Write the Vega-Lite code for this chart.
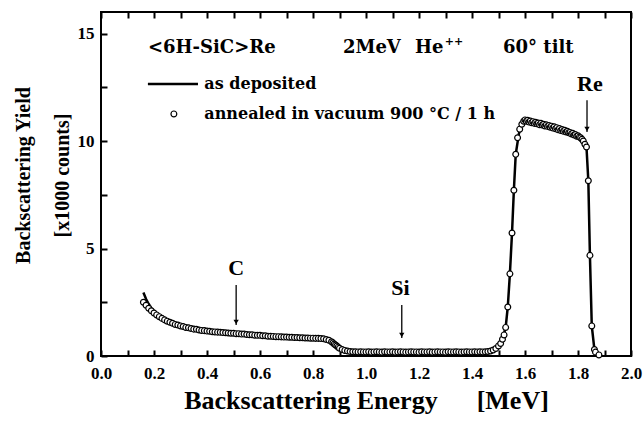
{
  "$schema": "https://vega.github.io/schema/vega-lite/v6.json",
  "width": 530,
  "height": 344,
  "autosize": {"type": "none"},
  "padding": {"left": 101, "top": 12, "right": 13, "bottom": 66},
  "background": "white",
  "config": {
    "view": {"stroke": "black", "strokeWidth": 2},
    "axis": {
      "labelFont": "Liberation Serif", "labelFontWeight": "bold", "labelColor": "black",
      "titleFont": "Liberation Serif", "titleFontWeight": "bold", "titleColor": "black",
      "tickColor": "black", "tickWidth": 2, "domain": false, "grid": false
    },
    "text": {"font": "Liberation Serif", "fontWeight": "bold", "color": "black"}
  },
  "datasets": {
    "annealed": [
      {"e":0.16,"c":2.50},{"e":0.17,"c":2.36},{"e":0.18,"c":2.22},{"e":0.19,"c":2.10},{"e":0.20,"c":2.00},
      {"e":0.21,"c":1.91},{"e":0.22,"c":1.83},{"e":0.23,"c":1.75},{"e":0.24,"c":1.68},{"e":0.25,"c":1.62},
      {"e":0.26,"c":1.57},{"e":0.27,"c":1.52},{"e":0.28,"c":1.47},{"e":0.29,"c":1.44},{"e":0.30,"c":1.40},
      {"e":0.31,"c":1.37},{"e":0.32,"c":1.33},{"e":0.33,"c":1.31},{"e":0.34,"c":1.28},{"e":0.35,"c":1.25},
      {"e":0.36,"c":1.24},{"e":0.37,"c":1.21},{"e":0.38,"c":1.19},{"e":0.39,"c":1.18},{"e":0.40,"c":1.16},
      {"e":0.41,"c":1.15},{"e":0.42,"c":1.13},{"e":0.43,"c":1.12},{"e":0.44,"c":1.11},{"e":0.45,"c":1.10},
      {"e":0.46,"c":1.09},{"e":0.47,"c":1.08},{"e":0.48,"c":1.07},{"e":0.49,"c":1.06},{"e":0.50,"c":1.06},
      {"e":0.51,"c":1.04},{"e":0.52,"c":1.04},{"e":0.53,"c":1.02},{"e":0.54,"c":1.02},{"e":0.55,"c":1.00},
      {"e":0.56,"c":0.99},{"e":0.57,"c":0.99},{"e":0.58,"c":0.97},{"e":0.59,"c":0.96},{"e":0.60,"c":0.96},
      {"e":0.61,"c":0.94},{"e":0.62,"c":0.94},{"e":0.63,"c":0.92},{"e":0.64,"c":0.92},{"e":0.65,"c":0.91},
      {"e":0.66,"c":0.90},{"e":0.67,"c":0.90},{"e":0.68,"c":0.89},{"e":0.69,"c":0.88},{"e":0.70,"c":0.88},
      {"e":0.71,"c":0.87},{"e":0.72,"c":0.87},{"e":0.73,"c":0.86},{"e":0.74,"c":0.86},{"e":0.75,"c":0.85},
      {"e":0.76,"c":0.85},{"e":0.77,"c":0.84},{"e":0.78,"c":0.84},{"e":0.79,"c":0.83},{"e":0.80,"c":0.83},
      {"e":0.81,"c":0.82},{"e":0.82,"c":0.82},{"e":0.83,"c":0.81},{"e":0.84,"c":0.80},{"e":0.85,"c":0.77},
      {"e":0.86,"c":0.73},{"e":0.87,"c":0.66},{"e":0.875,"c":0.61},{"e":0.88,"c":0.56},{"e":0.885,"c":0.51},
      {"e":0.89,"c":0.46},{"e":0.895,"c":0.41},{"e":0.90,"c":0.36},{"e":0.91,"c":0.30},{"e":0.92,"c":0.26},
      {"e":0.93,"c":0.23},{"e":0.94,"c":0.21},{"e":0.95,"c":0.20},{"e":0.96,"c":0.20},{"e":0.97,"c":0.19},
      {"e":0.98,"c":0.20},{"e":0.99,"c":0.19},{"e":1.00,"c":0.19},{"e":1.01,"c":0.20},{"e":1.02,"c":0.18},
      {"e":1.03,"c":0.19},{"e":1.04,"c":0.20},{"e":1.05,"c":0.19},{"e":1.06,"c":0.18},{"e":1.07,"c":0.20},
      {"e":1.08,"c":0.19},{"e":1.09,"c":0.19},{"e":1.10,"c":0.20},{"e":1.11,"c":0.18},{"e":1.12,"c":0.19},
      {"e":1.13,"c":0.20},{"e":1.14,"c":0.19},{"e":1.15,"c":0.18},{"e":1.16,"c":0.19},{"e":1.17,"c":0.20},
      {"e":1.18,"c":0.19},{"e":1.19,"c":0.19},{"e":1.20,"c":0.18},{"e":1.21,"c":0.20},{"e":1.22,"c":0.19},
      {"e":1.23,"c":0.19},{"e":1.24,"c":0.20},{"e":1.25,"c":0.18},{"e":1.26,"c":0.19},{"e":1.27,"c":0.20},
      {"e":1.28,"c":0.19},{"e":1.29,"c":0.19},{"e":1.30,"c":0.18},{"e":1.31,"c":0.20},{"e":1.32,"c":0.19},
      {"e":1.33,"c":0.19},{"e":1.34,"c":0.20},{"e":1.35,"c":0.19},{"e":1.36,"c":0.18},{"e":1.37,"c":0.19},
      {"e":1.38,"c":0.20},{"e":1.39,"c":0.19},{"e":1.40,"c":0.19},{"e":1.41,"c":0.20},{"e":1.42,"c":0.19},
      {"e":1.43,"c":0.20},{"e":1.44,"c":0.19},{"e":1.45,"c":0.20},{"e":1.46,"c":0.21},{"e":1.47,"c":0.23},
      {"e":1.48,"c":0.28},{"e":1.49,"c":0.35},{"e":1.50,"c":0.47},{"e":1.508,"c":0.58},{"e":1.515,"c":0.78},
      {"e":1.521,"c":0.98},{"e":1.527,"c":1.33},{"e":1.535,"c":2.28},{"e":1.543,"c":3.82},{"e":1.551,"c":5.72},
      {"e":1.558,"c":7.71},{"e":1.565,"c":9.38},{"e":1.572,"c":10.15},{"e":1.58,"c":10.55},{"e":1.588,"c":10.78},
      {"e":1.595,"c":10.92},{"e":1.60,"c":10.98},{"e":1.605,"c":10.92},{"e":1.61,"c":10.96},{"e":1.615,"c":10.88},
      {"e":1.62,"c":10.93},{"e":1.625,"c":10.85},{"e":1.63,"c":10.90},{"e":1.635,"c":10.82},{"e":1.64,"c":10.87},
      {"e":1.645,"c":10.80},{"e":1.65,"c":10.84},{"e":1.655,"c":10.76},{"e":1.66,"c":10.82},{"e":1.665,"c":10.74},
      {"e":1.67,"c":10.78},{"e":1.675,"c":10.70},{"e":1.68,"c":10.75},{"e":1.685,"c":10.68},{"e":1.69,"c":10.72},
      {"e":1.695,"c":10.64},{"e":1.70,"c":10.69},{"e":1.705,"c":10.60},{"e":1.71,"c":10.66},{"e":1.715,"c":10.57},
      {"e":1.72,"c":10.62},{"e":1.725,"c":10.52},{"e":1.73,"c":10.58},{"e":1.735,"c":10.49},{"e":1.74,"c":10.53},
      {"e":1.745,"c":10.45},{"e":1.75,"c":10.50},{"e":1.755,"c":10.42},{"e":1.76,"c":10.45},{"e":1.765,"c":10.38},
      {"e":1.77,"c":10.40},{"e":1.775,"c":10.33},{"e":1.78,"c":10.36},{"e":1.785,"c":10.28},{"e":1.79,"c":10.30},
      {"e":1.795,"c":10.22},{"e":1.80,"c":10.24},{"e":1.805,"c":10.18},{"e":1.81,"c":10.15},{"e":1.815,"c":10.08},
      {"e":1.82,"c":10.00},{"e":1.826,"c":9.85},{"e":1.832,"c":9.72},{"e":1.839,"c":8.15},{"e":1.845,"c":4.68},
      {"e":1.852,"c":1.40},{"e":1.862,"c":0.30},{"e":1.866,"c":0.18},{"e":1.879,"c":0.05}
    ],
    "deposited": [
      {"e":0.16,"c":2.95},{"e":0.17,"c":2.65},{"e":0.18,"c":2.42},{"e":0.19,"c":2.22},{"e":0.20,"c":2.06},
      {"e":0.22,"c":1.86},{"e":0.25,"c":1.64},{"e":0.28,"c":1.49},{"e":0.30,"c":1.41},{"e":0.35,"c":1.26},
      {"e":0.40,"c":1.17},{"e":0.45,"c":1.10},{"e":0.50,"c":1.05},{"e":0.55,"c":1.01},{"e":0.60,"c":0.96},
      {"e":0.65,"c":0.92},{"e":0.70,"c":0.88},{"e":0.75,"c":0.86},{"e":0.80,"c":0.83},{"e":0.84,"c":0.80},
      {"e":0.86,"c":0.73},{"e":0.88,"c":0.56},{"e":0.90,"c":0.36},{"e":0.92,"c":0.26},{"e":0.95,"c":0.20},
      {"e":1.00,"c":0.19},{"e":1.10,"c":0.19},{"e":1.20,"c":0.19},{"e":1.30,"c":0.19},{"e":1.40,"c":0.19},
      {"e":1.45,"c":0.20},{"e":1.48,"c":0.28},{"e":1.50,"c":0.47},{"e":1.515,"c":0.78},{"e":1.527,"c":1.33},
      {"e":1.535,"c":2.28},{"e":1.543,"c":3.82},{"e":1.551,"c":5.72},{"e":1.558,"c":7.71},{"e":1.565,"c":9.38},
      {"e":1.577,"c":10.35},{"e":1.588,"c":10.75},{"e":1.60,"c":10.95},{"e":1.65,"c":10.82},{"e":1.70,"c":10.66},
      {"e":1.75,"c":10.47},{"e":1.80,"c":10.22},{"e":1.82,"c":10.02},{"e":1.832,"c":9.72},{"e":1.839,"c":8.15},
      {"e":1.845,"c":4.68},{"e":1.852,"c":1.40},{"e":1.862,"c":0.30},{"e":1.872,"c":0.05}
    ],
    "arrows": [
      {"e":0.51,"top":3.30,"tip":1.44},
      {"e":1.135,"top":2.37,"tip":0.84},
      {"e":1.834,"top":11.90,"tip":10.42}
    ],
    "elements": [
      {"e":0.51,"c":4.09,"t":"C"},
      {"e":1.13,"c":3.16,"t":"Si"},
      {"e":1.845,"c":12.65,"t":"Re"}
    ],
    "header": [
      {"e":0.177,"c":14.33,"t":"<6H-SiC>Re"},
      {"e":0.913,"c":14.33,"t":"2MeV"},
      {"e":1.185,"c":14.33,"t":"He"},
      {"e":1.517,"c":14.33,"t":"60° tilt"}
    ],
    "sup": [
      {"e":1.297,"c":14.6,"t":"++"}
    ],
    "legendline": [
      {"e":0.177,"e2":0.366,"c":12.65}
    ],
    "legendsym": [
      {"e":0.275,"c":11.26}
    ],
    "legendtext": [
      {"e":0.39,"c":12.65,"t":"as deposited"},
      {"e":0.39,"c":11.26,"t":"annealed in vacuum 900 °C / 1 h"}
    ]
  },
  "layer": [
    {
      "data": {"name": "deposited"},
      "mark": {"type": "line", "color": "black", "strokeWidth": 2.5},
      "encoding": {
        "x": {"field": "e", "type": "quantitative",
          "scale": {"domain": [0, 2], "nice": false, "zero": false},
          "axis": {
            "orient": "bottom",
            "values": [0,0.1,0.2,0.3,0.4,0.5,0.6,0.7,0.8,0.9,1.0,1.1,1.2,1.3,1.4,1.5,1.6,1.7,1.8,1.9,2.0],
            "labelExpr": "round(datum.value*10) % 2 === 0 ? format(datum.value, '.1f') : ''",
            "tickSize": -6,
            "labelPadding": 15,
            "labelFontSize": 17,
            "labelFlush": false,
            "labelOverlap": false,
            "title": "Backscattering Energy\u00a0\u00a0\u00a0\u00a0\u00a0\u00a0[MeV]",
            "titleFontSize": 26,
            "titleBaseline": "alphabetic",
            "titleY": 52
          }
        },
        "y": {"field": "c", "type": "quantitative",
          "scale": {"domain": [0, 16], "nice": false, "zero": false},
          "axis": {
            "orient": "left",
            "values": [0,2.5,5,7.5,10,12.5,15],
            "labelExpr": "datum.value % 5 === 0 ? datum.label : ''",
            "tickSize": -6,
            "labelPadding": 13,
            "labelFontSize": 17,
            "labelFlush": false,
            "labelOverlap": false,
            "title": ["Backscattering Yield", "[x1000 counts]"],
            "titleFontSize": 20,
            "titleLineHeight": 39,
            "titleBaseline": "bottom",
            "titleX": -68,
            "titleY": 163
          }
        }
      }
    },
    {
      "data": {"name": "annealed"},
      "mark": {"type": "point", "shape": "circle", "filled": false, "fill": "white", "fillOpacity": 1, "stroke": "black", "strokeWidth": 1.2, "size": 34, "opacity": 1},
      "encoding": {
        "x": {"field": "e", "type": "quantitative", "scale": {"domain": [0, 2], "nice": false, "zero": false}, "axis": null},
        "y": {"field": "c", "type": "quantitative", "scale": {"domain": [0, 16], "nice": false, "zero": false}, "axis": null}
      }
    },
    {
      "data": {"name": "arrows"},
      "mark": {"type": "rule", "color": "black", "strokeWidth": 1.3},
      "encoding": {
        "x": {"field": "e", "type": "quantitative", "scale": {"domain": [0, 2], "nice": false, "zero": false},
          "axis": {
            "orient": "top",
            "values": [0,0.1,0.2,0.3,0.4,0.5,0.6,0.7,0.8,0.9,1.0,1.1,1.2,1.3,1.4,1.5,1.6,1.7,1.8,1.9,2.0],
            "labels": false, "title": null, "tickSize": -6
          }
        },
        "y": {"field": "top", "type": "quantitative", "scale": {"domain": [0, 16], "nice": false, "zero": false}, "axis": null},
        "y2": {"field": "tip"}
      }
    },
    {
      "data": {"name": "arrows"},
      "mark": {"type": "point", "shape": "triangle-down", "filled": true, "color": "black", "size": 28, "yOffset": -3, "opacity": 1},
      "encoding": {
        "x": {"field": "e", "type": "quantitative", "scale": {"domain": [0, 2], "nice": false, "zero": false}, "axis": null},
        "y": {"field": "tip", "type": "quantitative", "scale": {"domain": [0, 16], "nice": false, "zero": false}, "axis": null}
      }
    },
    {
      "data": {"name": "elements"},
      "mark": {"type": "text", "fontSize": 22, "align": "center", "baseline": "middle"},
      "encoding": {
        "x": {"field": "e", "type": "quantitative", "scale": {"domain": [0, 2], "nice": false, "zero": false}, "axis": null},
        "y": {"field": "c", "type": "quantitative", "scale": {"domain": [0, 16], "nice": false, "zero": false}, "axis": null},
        "text": {"field": "t"}
      }
    },
    {
      "data": {"name": "header"},
      "mark": {"type": "text", "font": "DejaVu Serif", "fontSize": 18, "align": "left", "baseline": "middle"},
      "encoding": {
        "x": {"field": "e", "type": "quantitative", "scale": {"domain": [0, 2], "nice": false, "zero": false}, "axis": null},
        "y": {"field": "c", "type": "quantitative", "scale": {"domain": [0, 16], "nice": false, "zero": false}, "axis": null},
        "text": {"field": "t"}
      }
    },
    {
      "data": {"name": "sup"},
      "mark": {"type": "text", "font": "DejaVu Serif", "fontSize": 11, "align": "left", "baseline": "middle"},
      "encoding": {
        "x": {"field": "e", "type": "quantitative", "scale": {"domain": [0, 2], "nice": false, "zero": false}, "axis": null},
        "y": {"field": "c", "type": "quantitative", "scale": {"domain": [0, 16], "nice": false, "zero": false}, "axis": null},
        "text": {"field": "t"}
      }
    },
    {
      "data": {"name": "legendline"},
      "mark": {"type": "rule", "color": "black", "strokeWidth": 2.5},
      "encoding": {
        "x": {"field": "e", "type": "quantitative", "scale": {"domain": [0, 2], "nice": false, "zero": false}, "axis": null},
        "x2": {"field": "e2"},
        "y": {"field": "c", "type": "quantitative", "scale": {"domain": [0, 16], "nice": false, "zero": false}, "axis": null}
      }
    },
    {
      "data": {"name": "legendsym"},
      "mark": {"type": "point", "shape": "circle", "filled": false, "fill": "white", "fillOpacity": 1, "stroke": "black", "strokeWidth": 1.2, "size": 34, "opacity": 1},
      "encoding": {
        "x": {"field": "e", "type": "quantitative", "scale": {"domain": [0, 2], "nice": false, "zero": false}, "axis": null},
        "y": {"field": "c", "type": "quantitative", "scale": {"domain": [0, 16], "nice": false, "zero": false}, "axis": null}
      }
    },
    {
      "data": {"name": "legendtext"},
      "mark": {"type": "text", "font": "DejaVu Serif", "fontSize": 16, "align": "left", "baseline": "middle"},
      "encoding": {
        "x": {"field": "e", "type": "quantitative", "scale": {"domain": [0, 2], "nice": false, "zero": false}, "axis": null},
        "y": {"field": "c", "type": "quantitative", "scale": {"domain": [0, 16], "nice": false, "zero": false}, "axis": null},
        "text": {"field": "t"}
      }
    }
  ],
  "resolve": {"axis": {"x": "independent", "y": "independent"}}
}
